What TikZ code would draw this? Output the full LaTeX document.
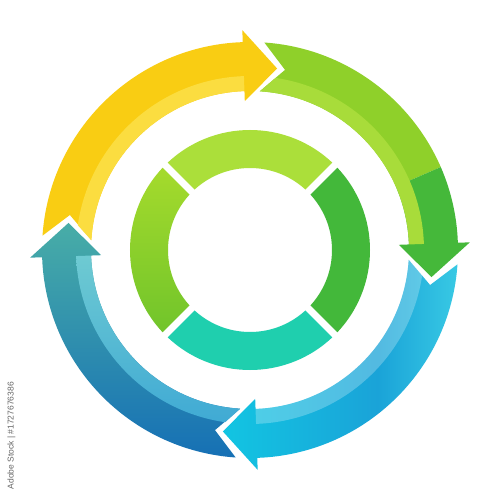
\documentclass[tikz,border=0pt]{standalone}
\usepackage{fontspec}
\newfontfamily\credfont{Liberation Sans}
\definecolor{yel}{HTML}{F9CD13}
\definecolor{yelband}{HTML}{FBDD40}
\definecolor{grnlight}{HTML}{8FD02A}
\definecolor{grndark}{HTML}{45B83A}
\definecolor{grnband}{HTML}{A8DC3A}
\definecolor{cyA}{HTML}{12C5E2}
\definecolor{cyB}{HTML}{1AA3D8}
\definecolor{cyC}{HTML}{38C9E4}
\definecolor{blTop}{HTML}{48ADA7}
\definecolor{blMid}{HTML}{2B92B8}
\definecolor{blBot}{HTML}{1670B5}
\definecolor{blBandTop}{HTML}{6ECAD2}
\definecolor{blBandBot}{HTML}{40AAD4}
\definecolor{ringTop}{HTML}{ABDF3A}
\definecolor{ringRight}{HTML}{43B83A}
\definecolor{ringBottom}{HTML}{1FCFAE}
\definecolor{ringLeftTop}{HTML}{A6DB2C}
\definecolor{ringLeftBot}{HTML}{70C42B}
\pgfdeclarehorizontalshading{cyanarrow}{100bp}{color(0bp)=(cyA); color(25bp)=(cyA); color(58bp)=(cyB); color(75bp)=(cyC); color(100bp)=(cyC)}
\def\RI{159}
\def\RO{208}
\def\RM{183.5}
\def\HI{149}
\def\HO{220}
\def\HL{10.5}
\def\GP{2.5}
\def\BR{174}
% arrow outline with tip angle #1 (clockwise travel), tail notch at #1+90
\newcommand\arrowshape[1]{({#1+90-\GP+7.05}:\RO pt) arc[start angle={#1+90-\GP+7.05}, end angle={#1+\HL}, radius=\RO pt] -- ({#1+\HL}:\HO pt) -- (#1:\RM pt) -- ({#1+\HL}:\HI pt) -- ({#1+\HL}:\RI pt) arc[start angle={#1+\HL}, end angle={#1+90-\GP+7.46}, radius=\RI pt] -- ({#1+90-\GP}:\RM pt) -- cycle}
% light band along the inner edge of the body
\newcommand\bandshape[1]{({#1+90-\GP+7.46}:\RI pt) arc[start angle={#1+90-\GP+7.46}, end angle={#1+\HL}, radius=\RI pt] -- ({#1+\HL}:\BR pt) arc[start angle={#1+\HL}, end angle={#1+90-\GP+2.8}, radius=\BR pt] -- cycle}
\newcommand\ringsector[2]{(#1:120pt) arc[start angle=#1, end angle=#2, radius=120pt] -- (#2:82pt) arc[start angle=#2, end angle=#1, radius=82pt] -- cycle}
\tikzset{gapline/.style={white, line width=7pt}}
\begin{document}
\begin{tikzpicture}
\useasboundingbox[fill=white] (-250pt,-250pt) rectangle (250pt,250pt);
% yellow arrow (left -> top)
\fill[yel] \arrowshape{81.5};
\fill[yelband] \bandshape{81.5};
% green arrow (top -> right)
\begin{scope}
\clip \arrowshape{-8.5};
\fill[grnlight] (0,0) -- (100:260pt) arc[start angle=100, end angle=23.5, radius=260pt] -- cycle;
\fill[grndark] (0,0) -- (23.5:260pt) arc[start angle=23.5, end angle=-40, radius=260pt] -- cycle;
\fill[grnband] \bandshape{-8.5};
\end{scope}
% cyan arrow (right -> bottom)
\shade[shading=cyanarrow] \arrowshape{-98.5};
\fill[white, opacity=0.25] \bandshape{-98.5};
% blue arrow (bottom -> left)
\shade[top color=blTop, middle color=blMid, bottom color=blBot] \arrowshape{171.5};
\shade[top color=blBandTop, bottom color=blBandBot] \bandshape{171.5};
% inner ring
\fill[ringTop] \ringsector{45}{135};
\fill[ringRight] \ringsector{-45}{45};
\fill[ringBottom] \ringsector{-135}{-45};
\shade[top color=ringLeftTop, bottom color=ringLeftBot] \ringsector{135}{225};
\foreach \a in {45,135,225,315}
  \draw[gapline] (\a:78pt) -- (\a:124pt);
% credit line
\node[rotate=90, anchor=east, inner sep=0pt, text=black!60, font=\credfont\fontsize{8.5}{10}\selectfont] (credit) at (-238.5pt,-132pt) {Adobe Stock | \#1727676386};
\end{tikzpicture}
\end{document}
